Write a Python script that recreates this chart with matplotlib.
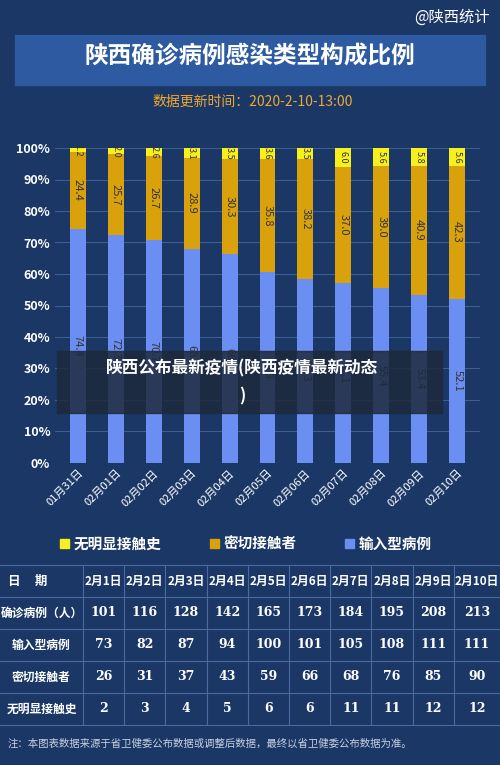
import matplotlib
matplotlib.use("Agg")
import matplotlib.pyplot as plt
import numpy as np

plt.rcParams['font.family'] = ['Noto Sans CJK SC', 'DejaVu Sans']

dates = ["01月31日","02月01日","02月02日","02月03日","02月04日","02月05日","02月06日","02月07日","02月08日","02月09日","02月10日"]
imported = [74.4, 72.3, 70.7, 68.0, 66.2, 60.6, 58.3, 57.1, 55.4, 53.4, 52.1]
contact = [24.4, 25.7, 26.7, 28.9, 30.3, 35.8, 38.2, 37.0, 39.0, 40.9, 42.3]
unknown = [1.2, 2.0, 2.6, 3.1, 3.5, 3.6, 3.5, 6.0, 5.6, 5.8, 5.6]

tbl_cols = ["2月1日","2月2日","2月3日","2月4日","2月5日","2月6日","2月7日","2月8日","2月9日","2月10日"]
tbl_rows = ["确诊病例（人）","输入型病例","密切接触者","无明显接触史"]
tbl_confirmed = [101,116,128,142,165,173,184,195,208,213]
tbl_imported = [73,82,87,94,100,101,105,108,111,111]
tbl_contact = [26,31,37,43,59,66,68,76,85,90]
tbl_unknown = [2,3,4,5,6,6,11,11,12,12]

BG = "#1a3766"
YEL, ORA, BLU = "#f7f01c", "#d9a10c", "#6b8ef2"

fig = plt.figure(figsize=(5, 7.65), dpi=100, facecolor=BG)
W, H = 500, 765
def fx(x): return x / W
def fy(y): return 1 - y / H

# title band
fig.patches.append(plt.Rectangle((fx(15), fy(85)), fx(470), 50/H, transform=fig.transFigure, color="#2d5aa0", zorder=0))
fig.text(fx(250), fy(57), "陕西确诊病例感染类型构成比例", color="white", fontsize=17, fontweight="bold", ha="center", va="center")
fig.text(fx(490), fy(17), "@陕西统计", color="white", fontsize=11, ha="right", va="center")
fig.text(fx(253), fy(102), "数据更新时间：2020-2-10-13:00", color="#f0a830", fontsize=10, ha="center", va="center")

ax = fig.add_axes([fx(55), fy(463), fx(425), 315/H])
ax.set_facecolor(BG)
x = np.arange(len(dates))
bw = 0.42
ax.bar(x, imported, bw, color=BLU, zorder=3)
ax.bar(x, contact, bw, bottom=imported, color=ORA, zorder=3)
b3 = np.array(imported) + np.array(contact)
ax.bar(x, unknown, bw, bottom=b3, color=YEL, zorder=3)
for i in range(len(x)):
    ax.text(x[i], imported[i] / 2, f"{imported[i]:.1f}", rotation=270, ha="center", va="center", fontsize=8, color="#333", zorder=4)
    ax.text(x[i], imported[i] + contact[i] / 2, f"{contact[i]:.1f}", rotation=270, ha="center", va="center", fontsize=8, color="#333", zorder=4)
    ax.text(x[i], b3[i] + unknown[i] / 2, f"{unknown[i]:.1f}", rotation=270, ha="center", va="center", fontsize=6.5, color="#333", zorder=4)
ax.set_ylim(0, 100)
ax.set_xlim(-0.6, len(x) - 0.4)
ax.set_yticks(range(0, 101, 10))
ax.set_yticklabels([f"{v}%" for v in range(0, 101, 10)], color="white", fontsize=9, fontweight="bold")
ax.set_xticks(x)
ax.set_xticklabels(dates, rotation=45, ha="right", rotation_mode="anchor", color="white", fontsize=8)
ax.grid(axis="y", color="#3d5e90", lw=0.8, zorder=0)
for s in ax.spines.values(): s.set_visible(False)
ax.tick_params(length=0)

# legend
for lx, col, lab in [(60, YEL, "无明显接触史"), (210, ORA, "密切接触者"), (345, BLU, "输入型病例")]:
    fig.patches.append(plt.Rectangle((fx(lx), fy(548)), 9/W, 9/H, transform=fig.transFigure, color=col))
    fig.text(fx(lx + 14), fy(544), lab, color="white", fontsize=10.5, fontweight="bold", va="center")

# table
top, rh = 565, 32
xs = [0, 83] + [83 + 41.2 * (k + 1) for k in range(10)]
xs[-1] = 500
nrows = 5
for r in range(nrows + 1):
    y = fy(top + r * rh)
    fig.add_artist(plt.Line2D([0, 1], [y, y], color="#4a6aa0", lw=0.8))
for xv in xs[1:-1]:
    fig.add_artist(plt.Line2D([fx(xv), fx(xv)], [fy(top), fy(top + nrows * rh)], color="#4a6aa0", lw=0.8))
def cx(c): return fx((xs[c] + xs[c + 1]) / 2)
fig.text(fx(8), fy(top + rh / 2), "日     期", color="white", fontsize=9, fontweight="bold", va="center")
for c, lab in enumerate(tbl_cols):
    fig.text(cx(c + 1), fy(top + rh / 2), lab, color="white", fontsize=8.5, fontweight="bold", ha="center", va="center")
for r, (lab, vals) in enumerate(zip(tbl_rows, [tbl_confirmed, tbl_imported, tbl_contact, tbl_unknown])):
    yc = fy(top + (r + 1.5) * rh)
    fig.text(cx(0), yc, lab, color="white", fontsize=8.5, fontweight="bold", ha="center", va="center")
    for c, v in enumerate(vals):
        fig.text(cx(c + 1), yc, str(v), color="white", fontsize=9, fontweight="bold", ha="center", va="center", family="DejaVu Serif")

fig.text(fx(8), fy(744), "注：本图表数据来源于省卫健委公布数据或调整后数据，最终以省卫健委公布数据为准。", color="#c8d0e0", fontsize=7.5, va="center")

# overlay caption
fig.patches.append(plt.Rectangle((fx(57), fy(413)), fx(385), 62/H, transform=fig.transFigure, color="#1e2a3c", alpha=0.85, zorder=5))
fig.text(fx(242), fy(368), "陕西公布最新疫情(陕西疫情最新动态", color="white", fontsize=12, fontweight="bold", ha="center", va="center", zorder=6)
fig.text(fx(242), fy(396), ")", color="white", fontsize=12, fontweight="bold", ha="center", va="center", zorder=6)

fig.savefig("out.png", dpi=100, facecolor=BG)
